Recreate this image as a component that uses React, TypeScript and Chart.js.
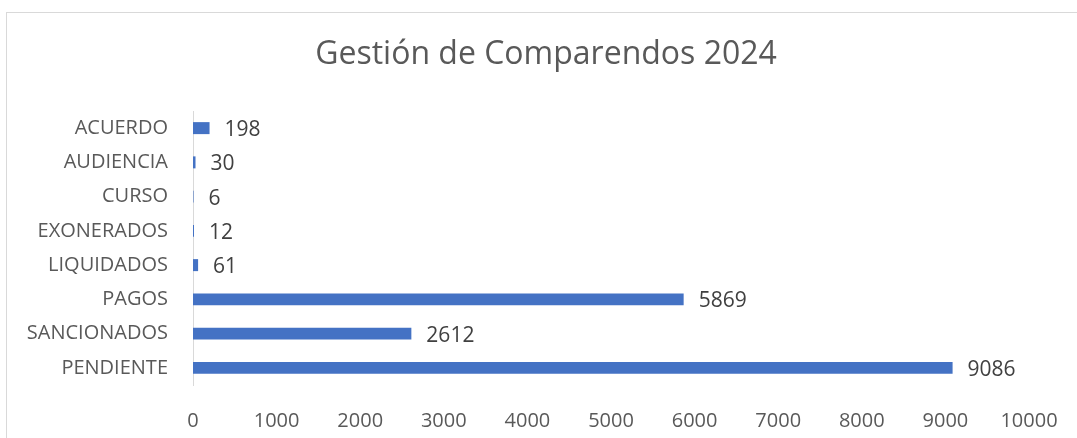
import React, { useEffect, useRef } from "react";
import { Chart, registerables } from "chart.js";

Chart.register(...registerables);

const categories = ["ACUERDO", "AUDIENCIA", "CURSO", "EXONERADOS", "LIQUIDADOS", "PAGOS", "SANCIONADOS", "PENDIENTE"];
const values = [198, 30, 6, 12, 61, 5869, 2612, 9086];
const xTicks = [0, 1000, 2000, 3000, 4000, 5000, 6000, 7000, 8000, 9000, 10000];
const title = "Gestión de Comparendos 2024";

const FONT = "'Open Sans', sans-serif";

export default function App() {
  const ref = useRef<HTMLCanvasElement | null>(null);
  useEffect(() => {
    if (!ref.current) return;
    const framePlugin = {
      id: "frame",
      beforeDraw(chart: any) {
        const ctx = chart.ctx;
        ctx.save();
        ctx.fillStyle = "#ffffff";
        ctx.fillRect(0, 0, chart.width, chart.height);
        ctx.strokeStyle = "#d9d9d9";
        ctx.lineWidth = 1;
        ctx.strokeRect(6.5, 12.5, 1200, 600);
        ctx.fillStyle = "#595959";
        ctx.font = `32px ${FONT}`;
        ctx.textAlign = "center";
        ctx.textBaseline = "alphabetic";
        ctx.fillText(title, 546, 64);
        ctx.restore();
      },
      afterDatasetsDraw(chart: any) {
        const ctx = chart.ctx;
        const meta = chart.getDatasetMeta(0);
        ctx.save();
        ctx.fillStyle = "#404040";
        ctx.font = `21px ${FONT}`;
        ctx.textAlign = "left";
        ctx.textBaseline = "middle";
        meta.data.forEach((el: any, i: number) => {
          ctx.fillText(String(values[i]), el.x + 15, el.y + 2);
        });
        ctx.restore();
      },
    };
    const chart = new Chart(ref.current, {
      type: "bar",
      data: {
        labels: categories,
        datasets: [
          {
            data: values,
            backgroundColor: "#4472C4",
            barPercentage: 0.35,
            categoryPercentage: 1,
          },
        ],
      },
      options: {
        indexAxis: "y",
        animation: false,
        responsive: false,
        maintainAspectRatio: false,
        layout: { padding: { left: 0, right: 48, top: 111, bottom: 0 } },
        plugins: { legend: { display: false }, title: { display: false }, tooltip: { enabled: false } },
        scales: {
          x: {
            min: 0,
            max: 10000,
            afterBuildTicks(scale: any) {
              scale.ticks = xTicks.map((v) => ({ value: v }));
            },
            afterFit(scale: any) {
              scale.height = 53;
              scale.paddingLeft = 0;
              scale.paddingRight = 0;
            },
            grid: { display: false, drawTicks: false },
            border: { display: false },
            ticks: {
              color: "#595959",
              font: { family: FONT, size: 20 },
              padding: 24,
              maxRotation: 0,
              autoSkip: false,
              callback: (v: any) => String(v),
            },
          },
          y: {
            afterFit(scale: any) {
              scale.width = 193;
              scale.paddingTop = 0;
              scale.paddingBottom = 0;
            },
            grid: { display: false, drawTicks: false },
            border: { display: true, color: "#d9d9d9", width: 1 },
            ticks: { color: "#595959", font: { family: FONT, size: 20 }, padding: 25, autoSkip: false },
          },
        },
      },
      plugins: [framePlugin],
    });
    return () => chart.destroy();
  }, []);
  return (
    <div style={{ position: "absolute", left: 0, top: 0, width: 1077, height: 438 }}>
      <canvas ref={ref} width={1077} height={438} style={{ width: 1077, height: 438 }} />
    </div>
  );
}
